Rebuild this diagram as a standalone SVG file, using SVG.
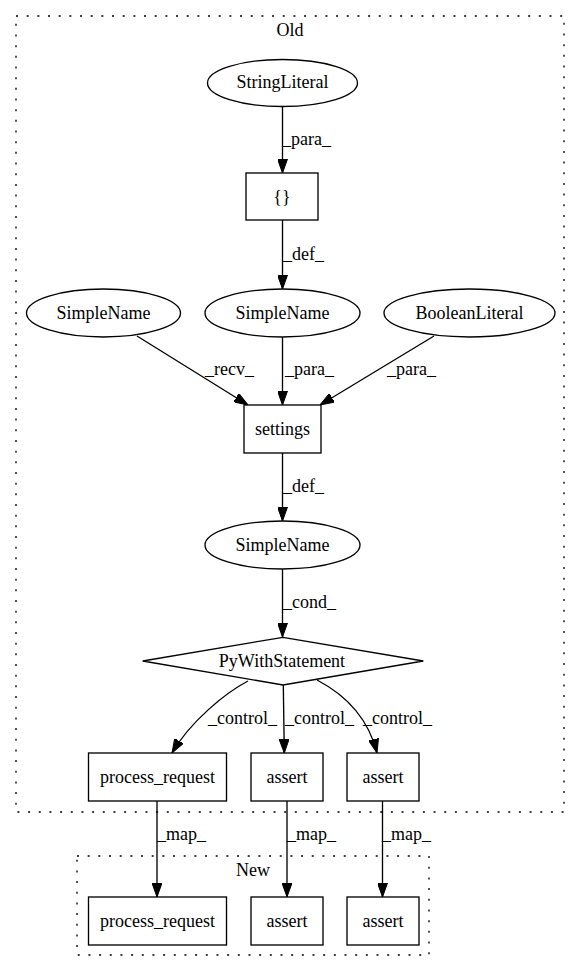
<svg xmlns="http://www.w3.org/2000/svg" width="581" height="972" viewBox="0 0 581 972">
<style>
text{font-family:"Liberation Serif","Times New Roman",serif;font-size:18px;fill:#000}
.c{text-anchor:middle}
.n{fill:#fff;stroke:#000;stroke-width:1.33}
.cl{fill:none;stroke:#000;stroke-width:1.33;stroke-dasharray:2,8.67}
.e{fill:none;stroke:#000;stroke-width:1.33;marker-end:url(#ah)}
</style>
<defs>
<marker id="ah" markerUnits="userSpaceOnUse" markerWidth="14" markerHeight="10" viewBox="0 0 14 10" refX="14" refY="5" orient="auto">
<path d="M0,0 L14,5 L0,10 z" fill="#000" stroke="#000" stroke-width="1"/>
</marker>
</defs>
<rect width="581" height="972" fill="#fff"/>
<g id="cluster_old">
<rect class="cl" x="16" y="16" width="548" height="796"/>
<text class="c" x="290" y="36">Old</text>
</g>
<g id="cluster_new">
<rect class="cl" x="77" y="856" width="352" height="99"/>
<text class="c" x="253" y="876">New</text>
</g>
<g id="edges">
<path class="e" d="M282.5,106 L282.5,173"/>
<text x="282" y="145">_para_</text>
<path class="e" d="M282.5,220 L282.5,289"/>
<text x="283" y="260">_def_</text>
<path class="e" d="M137,336 L248,405"/>
<text x="205" y="375">_recv_</text>
<path class="e" d="M282.5,337 L282.5,405"/>
<text x="285" y="375">_para_</text>
<path class="e" d="M434,336 L320,405"/>
<text x="387" y="375">_para_</text>
<path class="e" d="M282.5,453 L282.5,521"/>
<text x="283" y="492">_def_</text>
<path class="e" d="M282.5,569 L282.5,637"/>
<text x="283" y="608">_cond_</text>
<path class="e" d="M248,681 C225,693 190,722 172,753"/>
<text x="208" y="724">_control_</text>
<path class="e" d="M283.3,685 L284.3,753"/>
<text x="285" y="724">_control_</text>
<path class="e" d="M317,680 C340,692 367,713 377,753"/>
<text x="363" y="724">_control_</text>
<path class="e" d="M157,801 L157,897"/>
<text x="157" y="840">_map_</text>
<path class="e" d="M287,801 L287,897"/>
<text x="287" y="840">_map_</text>
<path class="e" d="M382.5,801 L382.5,897"/>
<text x="382" y="840">_map_</text>
</g>
<g id="n_stringliteral">
<ellipse class="n" cx="282.5" cy="83" rx="75" ry="23.5"/>
<text class="c" x="282.5" y="88">StringLiteral</text>
</g>
<g id="n_braces">
<rect class="n" x="246" y="173" width="72" height="47"/>
<text class="c" x="282" y="203">{}</text>
</g>
<g id="n_simplename1">
<ellipse class="n" cx="103.5" cy="313" rx="77" ry="24"/>
<text class="c" x="103.5" y="319">SimpleName</text>
</g>
<g id="n_simplename2">
<ellipse class="n" cx="282.5" cy="313" rx="77.5" ry="24"/>
<text class="c" x="282.5" y="319">SimpleName</text>
</g>
<g id="n_booleanliteral">
<ellipse class="n" cx="469.5" cy="313" rx="85.5" ry="24"/>
<text class="c" x="469.5" y="319">BooleanLiteral</text>
</g>
<g id="n_settings">
<rect class="n" x="244" y="405" width="77" height="48"/>
<text class="c" x="282.5" y="435">settings</text>
</g>
<g id="n_simplename3">
<ellipse class="n" cx="282.5" cy="545" rx="77.5" ry="24"/>
<text class="c" x="282.5" y="551">SimpleName</text>
</g>
<g id="n_pywith">
<polygon class="n" points="142.7,661 283,637.3 423.3,661 283,685"/>
<text class="c" x="282" y="667">PyWithStatement</text>
</g>
<g id="n_old_process_request">
<rect class="n" x="88.5" y="753" width="138" height="48"/>
<text class="c" x="157.5" y="783">process_request</text>
</g>
<g id="n_old_assert1">
<rect class="n" x="251" y="753" width="72" height="48"/>
<text class="c" x="287" y="783">assert</text>
</g>
<g id="n_old_assert2">
<rect class="n" x="347" y="753" width="72" height="48"/>
<text class="c" x="383" y="783">assert</text>
</g>
<g id="n_new_process_request">
<rect class="n" x="88.5" y="897" width="138" height="48"/>
<text class="c" x="157.5" y="927">process_request</text>
</g>
<g id="n_new_assert1">
<rect class="n" x="251" y="897" width="72" height="48"/>
<text class="c" x="287" y="927">assert</text>
</g>
<g id="n_new_assert2">
<rect class="n" x="347" y="897" width="72" height="48"/>
<text class="c" x="383" y="927">assert</text>
</g>
</svg>
